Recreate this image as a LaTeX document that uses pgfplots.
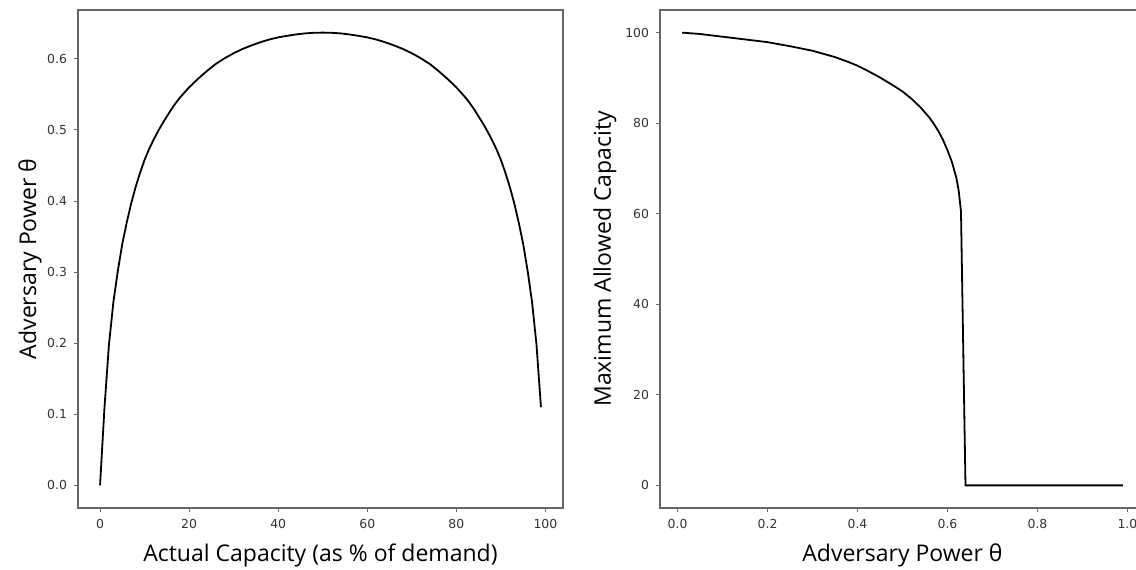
\documentclass[border=0pt]{standalone}
\usepackage{pgfplots}
\pgfplotsset{compat=1.18}
\usepackage{fontspec}
\setmainfont{Open Sans}
\newfontfamily\tickfont{DejaVu Sans}

% capacity -> adversary power (left panel)
\pgfplotstableread{
x y
0 0
1 0.110
2 0.198
3 0.258
4 0.302
5 0.340
6 0.370
7 0.397
8 0.420
9 0.440
10 0.458
11 0.473
12 0.486
13 0.498
14 0.509
15 0.519
16 0.529
17 0.538
18 0.546
19 0.553
20 0.560
22 0.572
24 0.583
26 0.593
28 0.601
30 0.608
32 0.614
34 0.619
36 0.6235
38 0.6273
40 0.6303
42 0.6325
44 0.6344
46 0.6359
48 0.6367
50 0.6370
52 0.6367
54 0.6359
56 0.6344
58 0.6325
60 0.6303
62 0.6273
64 0.6235
66 0.619
68 0.614
70 0.608
72 0.601
74 0.593
76 0.583
78 0.572
80 0.560
81 0.553
82 0.546
83 0.538
84 0.529
85 0.519
86 0.509
87 0.498
88 0.486
89 0.473
90 0.458
91 0.440
92 0.420
93 0.397
94 0.370
95 0.340
96 0.302
97 0.258
98 0.198
99 0.110
}\powercurve

% adversary power -> max allowed capacity (right panel)
\pgfplotstableread{
t v
0.01 100
0.05 99.7
0.10 99.1
0.15 98.5
0.20 97.9
0.25 97.0
0.30 96.0
0.35 94.6
0.38 93.5
0.40 92.7
0.42 91.7
0.45 90.1
0.48 88.3
0.50 87.0
0.52 85.4
0.54 83.5
0.56 81.2
0.57 79.8
0.58 78.2
0.59 76.3
0.60 74.0
0.61 71.4
0.62 67.8
0.625 65.0
0.63 60.5
0.64 0
0.99 0
}\capcurve

\pgfplotsset{
  panel/.style={
    scale only axis, width=242.5pt, height=249pt,
    anchor=south west,
    axis line style={black!60, line width=0.6pt},
    tick align=outside, major tick length=2pt,
    tick style={black!60, line width=0.5pt},
    xtick pos=left, ytick pos=left,
    ticklabel style={font=\tickfont\fontsize{6.2}{7}\selectfont, text=black!80},
    /pgf/number format/assume math mode=true,
    label style={font=\fontsize{11.5}{13}\selectfont},
  },
}

\begin{document}
\begin{tikzpicture}
\path[use as bounding box, clip] (0,0) rectangle (568pt,284.5pt);

\begin{axis}[panel, at={(39pt,30.5pt)},
    xmin=-4.95, xmax=103.95, ymin=-0.0318, ymax=0.6688,
    xtick={0,20,40,60,80,100},
    ytick={0,0.1,0.2,0.3,0.4,0.5,0.6},
    yticklabel style={/pgf/number format/.cd, fixed, fixed zerofill, precision=1},
    xlabel={Actual Capacity (as \% of demand)},
    ylabel={Adversary Power θ},
    xlabel style={at={([yshift=-23.5pt]axis description cs:0.5,0)}, anchor=center},
    ylabel style={at={([xshift=-24pt]axis description cs:0,0.5)}, anchor=center},
  ]
  \addplot[black, line width=0.9pt, line join=round] table[x=x, y=y] {\powercurve};
\end{axis}

\begin{axis}[panel, at={(330pt,30.5pt)},
    xmin=-0.039, xmax=1.039, ymin=-5, ymax=105,
    xtick={0,0.2,0.4,0.6,0.8,1.0},
    ytick={0,20,40,60,80,100},
    xticklabel style={/pgf/number format/.cd, fixed, fixed zerofill, precision=1},
    xlabel={Adversary Power θ},
    ylabel={Maximum Allowed Capacity},
    xlabel style={at={([yshift=-23.5pt]axis description cs:0.5,0)}, anchor=center},
    ylabel style={at={([xshift=-27.5pt]axis description cs:0,0.5)}, anchor=center},
  ]
  \addplot[black, line width=0.9pt, line join=round] table[x=t, y=v] {\capcurve};
\end{axis}
\end{tikzpicture}
\end{document}
